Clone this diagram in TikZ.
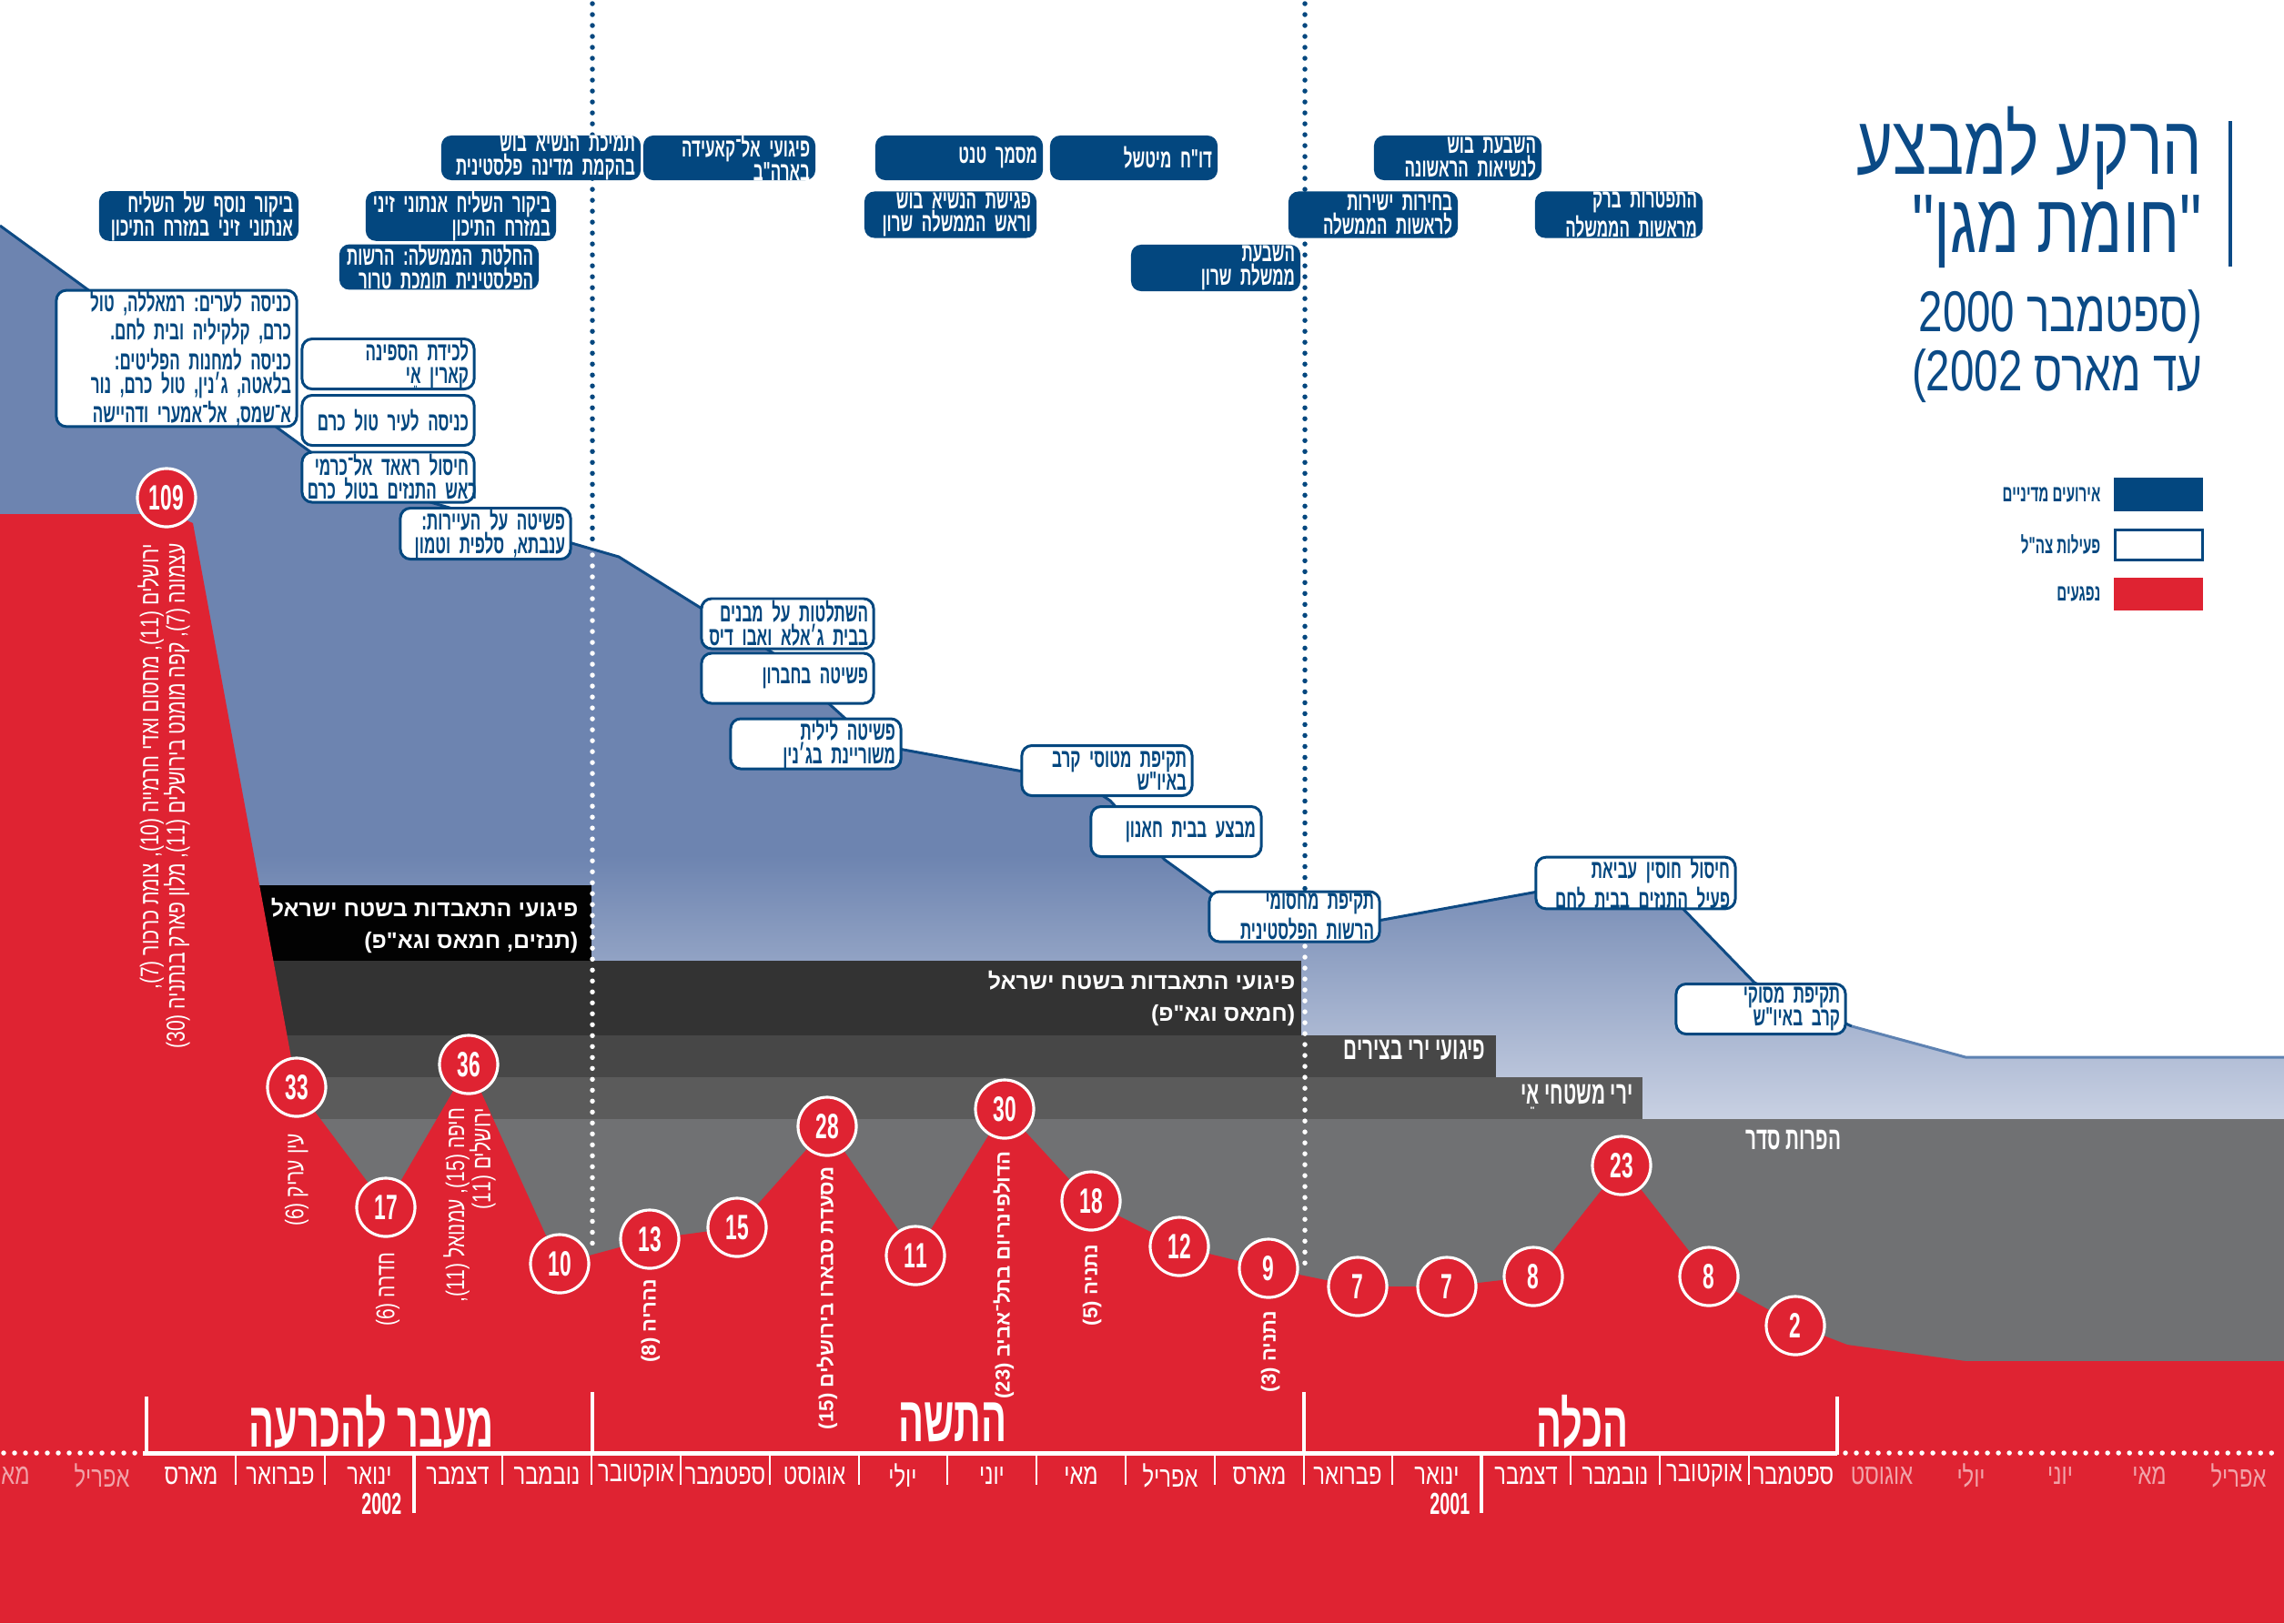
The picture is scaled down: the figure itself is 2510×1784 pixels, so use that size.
\documentclass[tikz,border=0pt]{standalone}
\usepackage{fontspec}
\TeXXeTstate=1
\newfontfamily\hbc[Script=Hebrew,FakeStretch=0.75]{Liberation Sans}
\newfontfamily\hbb[Script=Hebrew,FakeStretch=0.59]{Liberation Sans Bold}
\newfontfamily\hbn[Script=Hebrew]{Liberation Sans}
\newcommand\rl[1]{\leavevmode\hbox{\frenchspacing\beginR #1\endR}}
\definecolor{polblue}{HTML}{03477F}
\definecolor{titleblue}{HTML}{0B4A86}
\definecolor{myred}{HTML}{DF2332}
\definecolor{areablue}{HTML}{6D84B0}
\definecolor{arealight}{HTML}{C9D1E3}
\definecolor{lineblue}{HTML}{0E4A84}
\definecolor{lightline}{HTML}{5E82B2}
\definecolor{bandA}{HTML}{020202}
\definecolor{bandB}{HTML}{333333}
\definecolor{bandC}{HTML}{474747}
\definecolor{bandD}{HTML}{5B5B5B}
\definecolor{bandE}{HTML}{707173}
\definecolor{faded}{HTML}{F1A3A9}
\begin{document}
\frenchspacing
\begin{tikzpicture}[x=0.01cm,y=-0.01cm,
  pol/.style={fill=polblue, rounded corners=0.11cm, text=white,
    font=\hbb\fontsize{8.2}{7.3}\selectfont, align=right,
    inner xsep=0.06cm, inner ysep=0pt},
  idf/.style={fill=white, draw=polblue, line width=0.85pt, rounded corners=0.11cm,
    text=polblue, font=\hbb\fontsize{8.2}{7.3}\selectfont, align=right,
    inner xsep=0.06cm, inner ysep=0pt},
  numc/.style={circle, fill=myred, draw=white, line width=0.9pt, minimum size=0.64cm,
    inner sep=0pt, text=white, font=\hbb\fontsize{11}{11}\selectfont},
  rotlab/.style={rotate=90, anchor=east, text=white, align=right, inner sep=0pt,
    font=\hbc\fontsize{8}{8.2}\selectfont},
  rotlabw/.style={rotate=90, anchor=east, text=white, align=right, inner sep=0pt,
    font=\hbn\bfseries\fontsize{6.3}{7}\selectfont},
  bandtxt/.style={anchor=east, text=white, align=right, inner sep=0pt,
    font=\hbn\bfseries\fontsize{7.1}{10}\selectfont},
  bandtxtc/.style={anchor=east, text=white, inner sep=0pt, text height=0.17cm, text depth=0.03cm,
    font=\hbb\fontsize{10}{10}\selectfont},
  mlab/.style={text=white, inner sep=0pt, font=\hbc\fontsize{9}{9}\selectfont},
  fmlab/.style={mlab, text=faded},
  yrlab/.style={anchor=east, text=white, inner sep=0pt, font=\hbb\fontsize{9.5}{9.5}\selectfont},
  seclab/.style={text=white, inner sep=0pt, font=\hbb\fontsize{20}{20}\selectfont},
  legtxt/.style={anchor=east, text=polblue, inner sep=0pt, font=\hbb\fontsize{7.3}{7.3}\selectfont},
  dotline/.style={line width=0.055cm, line cap=round, dash pattern=on 0pt off 0.12cm},
]
\useasboundingbox (0,0) rectangle (2510,1784);
\fill[white] (0,0) rectangle (2510,1784);
% blue area
\begin{scope}
\clip (0,248) -- (380,525) -- (680,612) -- (850,718) -- (960,818) -- (1190,860) -- (1220,880) -- (1280,945) -- (1331,982) -- (1470,1020) -- (1690,980) -- (1810,958) -- (1928,1080) -- (2035,1128) -- (2160,1162) -- (2510,1162) -- (2510,1232) -- (0,1232) -- cycle;
\fill[areablue] (0,240) rectangle (2510,1232);
\shade[top color=areablue, bottom color=arealight] (0,940) rectangle (2510,1232);
\end{scope}
\draw[lineblue, line width=0.85pt, line join=round] (0,248) -- (380,525) -- (680,612) -- (850,718) -- (960,818) -- (1190,860) -- (1220,880) -- (1280,945) -- (1331,982) -- (1470,1020) -- (1690,980) -- (1810,958) -- (1928,1080) -- (2035,1128);
\draw[lightline, line width=0.85pt, line join=round] (2035,1128) -- (2160,1162) -- (2510,1162);
% bands
\fill[bandA] (285,973) rectangle (650,1056);
\fill[bandB] (285,1056) rectangle (1430,1138);
\fill[bandC] (285,1138) rectangle (1644,1184);
\fill[bandD] (285,1184) rectangle (1805,1230);
\fill[bandE] (285,1230) rectangle (2510,1500);
\node[bandtxt] (tA) at (636,1017) {\rl{פיגועי התאבדות בשטח ישראל}\\\rl{(תנזים, חמאס וגא"פ)}};
\node[bandtxt] (tB) at (1424,1097) {\rl{פיגועי התאבדות בשטח ישראל}\\\rl{(חמאס וגא"פ)}};
\node[bandtxtc] (tC) at (1633,1157) {\rl{פיגועי ירי בצירים}};
\node[bandtxtc] (tD) at (1795,1206) {\rl{ירי משטחי אֵי}};
\node[bandtxtc] (tE) at (2024,1256) {\rl{הפרות סדר}};
% red area
\fill[myred] (0,565) -- (190,565) -- (212,575) -- (326,1195) -- (424,1326) -- (515,1170) -- (614,1389) -- (714,1362) -- (810,1349) -- (909,1238) -- (1006,1379) -- (1104,1219) -- (1197,1320) -- (1296,1370) -- (1394,1394) -- (1491,1414) -- (1590,1414) -- (1685,1403) -- (1782,1280) -- (1878,1403) -- (1973,1456) -- (2030,1478) -- (2160,1496) -- (2510,1496) -- (2510,1784) -- (0,1784) -- cycle;
% dotted period lines
\draw[dotline, polblue] (651,4) -- (651,598);
\draw[dotline, white] (651,610) -- (651,1376);
\draw[dotline, polblue] (1434,4) -- (1434,1004);
\draw[dotline, white] (1434,1016) -- (1434,1398);
% circles
\node[numc] (c109) at (183,547) {109};
\node[numc] (c33) at (326,1195) {33};
\node[numc] (c17) at (424,1327) {17};
\node[numc] (c36) at (515,1170) {36};
\node[numc] (c10) at (615,1389) {10};
\node[numc] (c13) at (714,1362) {13};
\node[numc] (c15) at (810,1349) {15};
\node[numc] (c28) at (909,1238) {28};
\node[numc] (c11) at (1006,1380) {11};
\node[numc] (c30) at (1104,1219) {30};
\node[numc] (c18) at (1199,1320) {18};
\node[numc] (c12) at (1296,1370) {12};
\node[numc] (c9) at (1394,1394) {9};
\node[numc] (c7a) at (1492,1414) {7};
\node[numc] (c7b) at (1590,1414) {7};
\node[numc] (c8a) at (1685,1403) {8};
\node[numc] (c23) at (1782,1281) {23};
\node[numc] (c8b) at (1878,1403) {8};
\node[numc] (c2) at (1973,1457) {2};
% rotated labels
\node[rotlab] (l109) at (180,597) {\rl{ירושלים (11), מחסום ואדי חרמייה (10), צומת כרכור (7),}\\\rl{עצמונה (7), קפה מומנט בירושלים (11), מלון פארק בנתניה (30)}};
\node[rotlab] (l33) at (326,1245) {\rl{עין עריק (6)}};
\node[rotlab] (l17) at (426,1376) {\rl{חדרה (6)}};
\node[rotlab] (l36) at (516,1217) {\rl{חיפה (15), עמנואל (11),}\\\rl{ירושלים (11)}};
\node[rotlabw] (l13) at (715,1405) {\rl{נהריה (8)}};
\node[rotlabw] (l28) at (909,1282) {\rl{מסעדת סבארו בירושלים (15)}};
\node[rotlabw] (l30) at (1103,1265) {\rl{הדולפינריום בתל־אביב (23)}};
\node[rotlabw] (l18) at (1200,1367) {\rl{נתניה (5)}};
\node[rotlabw] (l9) at (1396,1440) {\rl{נתניה (3)}};
% political events
\node[pol, text width=2.07cm, minimum height=0.49cm] (p1) at (218.5,237.5) {\rl{ביקור נוסף של השליח}\\\rl{אנתוני זיני במזרח התיכון}};
\node[pol, text width=1.97cm, minimum height=0.49cm] (p2) at (506.5,237.5) {\rl{ביקור השליח אנתוני זיני}\\\rl{במזרח התיכון}};
\node[pol, text width=2.07cm, minimum height=0.49cm] (p3) at (482.5,293.5) {\rl{החלטת הממשלה: הרשות}\\\rl{הפלסטינית תומכת טרור}};
\node[pol, text width=2.07cm, minimum height=0.49cm] (p4) at (594.5,173.5) {\rl{תמיכת הנשיא בוש}\\\rl{בהקמת מדינה פלסטינית}};
\node[pol, text width=1.77cm, minimum height=0.49cm] (p5) at (801.5,173.5) {\rl{פיגועי אל־קאעידה}\\\rl{בארה"ב}};
\node[pol, text width=1.72cm, minimum height=0.49cm] (p6) at (1054,173.5) {\rl{מסמך טנט}};
\node[pol, text width=1.72cm, minimum height=0.49cm] (p7) at (1246,173.5) {\rl{דו"ח מיטשל}};
\node[pol, text width=1.77cm, minimum height=0.51cm] (p8) at (1044.5,236) {\rl{פגישת הנשיא בוש}\\\rl{וראש הממשלה שרון}};
\node[pol, text width=1.74cm, minimum height=0.51cm] (p9) at (1336,294.5) {\rl{השבעת}\\\rl{ממשלת שרון}};
\node[pol, text width=1.74cm, minimum height=0.51cm] (p10) at (1509,236) {\rl{בחירות ישירות}\\\rl{לראשות הממשלה}};
\node[pol, text width=1.72cm, minimum height=0.49cm] (p11) at (1602,173.5) {\rl{השבעת בוש}\\\rl{לנשיאות הראשונה}};
\node[pol, text width=1.72cm, minimum height=0.51cm] (p12) at (1779,236) {\rl{התפטרות ברק}\\\rl{מראשות הממשלה}};
% IDF operations
\node[idf, text width=2.52cm, minimum height=1.36cm] (i1) at (194,394) {\rl{כניסה לערים: רמאללה, טול}\\\rl{כרם, קלקיליה ובית לחם.}\\\rl{כניסה למחנות הפליטים:}\\\rl{בלאטה, ג׳נין, טול כרם, נור}\\\rl{א־שמס, אל־אמערי ודהיישה}};
\node[idf, text width=1.77cm, minimum height=0.55cm] (i2) at (426.5,400) {\rl{לכידת הספינה}\\\rl{קארין אֵי}};
\node[idf, text width=1.77cm, minimum height=0.55cm] (i3) at (426.5,462) {\rl{כניסה לעיר טול כרם}};
\node[idf, text width=1.77cm, minimum height=0.55cm] (i4) at (426.5,524.5) {\rl{חיסול ראאד אל־כרמי}\\\rl{ראש התנזים בטול כרם}};
\node[idf, text width=1.75cm, minimum height=0.56cm] (i5) at (533.5,586.5) {\rl{פשיטה על העיירות:}\\\rl{ענבתא, סלפית וטמון}};
\node[idf, text width=1.77cm, minimum height=0.55cm] (i6) at (865.5,685.5) {\rl{השתלטות על מבנים}\\\rl{בבית ג׳אלא ואבו דיס}};
\node[idf, text width=1.77cm, minimum height=0.55cm] (i7) at (865.5,745.5) {\rl{פשיטה בחברון}};
\node[idf, text width=1.75cm, minimum height=0.55cm] (i8) at (896.5,817.5) {\rl{פשיטה לילית}\\\rl{משוריינת בג׳נין}};
\node[idf, text width=1.75cm, minimum height=0.55cm] (i9) at (1216.5,847) {\rl{תקיפת מטוסי קרב}\\\rl{באיו"ש}};
\node[idf, text width=1.75cm, minimum height=0.55cm] (i10) at (1292.5,914) {\rl{מבצע בבית חאנון}};
\node[idf, text width=1.75cm, minimum height=0.55cm] (i11) at (1422.5,1007.5) {\rl{תקיפת מחסומי}\\\rl{הרשות הפלסטינית}};
\node[idf, text width=2.07cm, minimum height=0.55cm] (i12) at (1797.5,970.5) {\rl{חיסול חוסין עביאת}\\\rl{פעיל התנזים בבית לחם}};
\node[idf, text width=1.74cm, minimum height=0.55cm] (i13) at (1935,1109) {\rl{תקיפת מסוקי}\\\rl{קרב באיו"ש}};
% axis
\draw[white, line width=0.05cm] (157,1597) -- (2019,1597);
\draw[dotline, white] (4,1597) -- (150,1597);
\draw[dotline, white] (2028,1597) -- (2506,1597);
\foreach \x in {259,357,552,650,748,846,944,1041,1139,1237,1335,1433,1530,1726,1824,1922}
  \draw[white, line width=0.7pt] (\x,1597) -- (\x,1632);
\foreach \x in {455,1628}
  \draw[white, line width=0.9pt] (\x,1597) -- (\x,1663);
\foreach \x/\y in {161/1535,651/1530,1433/1530,2019/1535}
  \draw[white, line width=0.9pt] (\x,\y) -- (\x,1599);
\foreach \x/\t [count=\i] in {210/מארס,308/פברואר,406/ינואר,503/דצמבר,601/נובמבר,699/אוקטובר,797/ספטמבר,895/אוגוסט,992/יולי,1090/יוני,1188/מאי,1286/אפריל,1384/מארס,1481/פברואר,1579/ינואר,1677/דצמבר,1775/נובמבר,1873/אוקטובר,1971/ספטמבר}
  \node[mlab] (m\i) at (\x,1622) {\rl{\t}};
\foreach \x/\t [count=\i] in {14/מאי,112/אפריל,2068/אוגוסט,2166/יולי,2264/יוני,2362/מאי,2460/אפריל}
  \node[fmlab] (f\i) at (\x,1622) {\rl{\t}};
\node[yrlab] (y2002) at (442,1653) {2002};
\node[yrlab] (y2001) at (1616,1653) {2001};
\node[seclab] (s1) at (408,1563) {\rl{מעבר להכרעה}};
\node[seclab] (s2) at (1047,1563) {\rl{התשה}};
\node[seclab] (s3) at (1739,1563) {\rl{הכלה}};
% title
\draw[titleblue, line width=1.1pt] (2451,133) -- (2451,293);
\node[anchor=east, text=titleblue, inner sep=0pt, font=\hbc\fontsize{26}{26}\selectfont] (ttl1) at (2421,163) {\rl{הרקע למבצע}};
\node[anchor=east, text=titleblue, inner sep=0pt, font=\hbc\fontsize{26}{26}\selectfont] (ttl2) at (2421,255) {\rl{"חומת מגן"}};
\node[anchor=east, text=titleblue, inner sep=0pt, font=\hbc\fontsize{18}{18}\selectfont] (st1) at (2421,348) {\rl{(ספטמבר 2000}};
\node[anchor=east, text=titleblue, inner sep=0pt, font=\hbc\fontsize{18}{18}\selectfont] (st2) at (2421,413) {\rl{עד מארס 2002)}};
% legend
\fill[polblue] (2323,525) rectangle (2421,562);
\draw[polblue, fill=white, line width=0.85pt] (2324,582) rectangle (2420,615);
\fill[myred] (2323,635) rectangle (2421,671);
\node[legtxt] (lg1) at (2309,544) {\rl{אירועים מדיניים}};
\node[legtxt] (lg2) at (2309,598) {\rl{פעילות צה"ל}};
\node[legtxt] (lg3) at (2309,653) {\rl{נפגעים}};
\end{tikzpicture}
\end{document}
